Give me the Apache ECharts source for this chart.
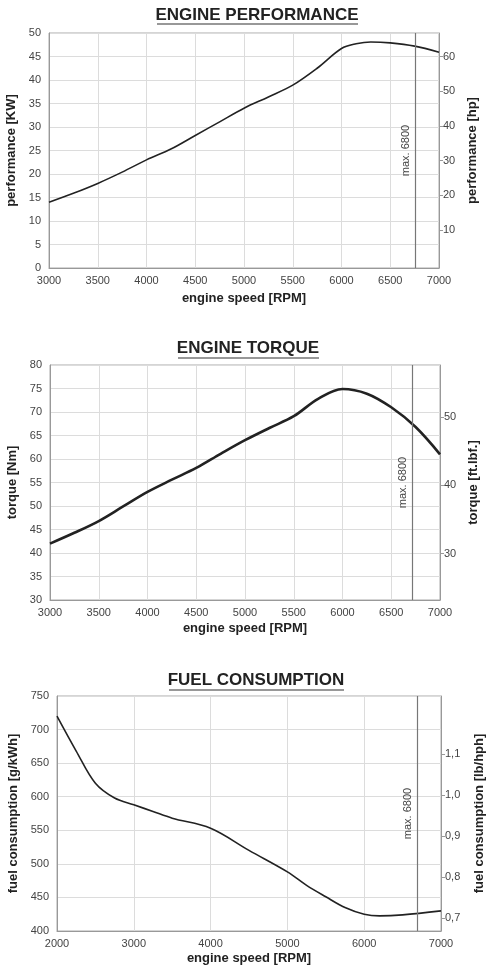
<!DOCTYPE html>
<html>
<head>
<meta charset="utf-8">
<script src="https://cdn.jsdelivr.net/npm/echarts@6/dist/echarts.min.js"></script>
<style>
  html, body { margin: 0; padding: 0; background: #fff; }
  #chart { width: 487px; height: 966px; }
</style>
</head>
<body>
<div id="chart"></div>
<script>
// engine performance
var rpmPower = [3000, 3250, 3500, 3750, 4000, 4250, 4500, 4750, 5000, 5250, 5500, 5750, 6000, 6150, 6300, 6500, 6750, 7000]
var powerKw = [14, 15.9, 18, 20.4, 23, 25.3, 28.2, 31.1, 34, 36.4, 38.9, 42.5, 46.7, 47.7, 48.1, 47.9, 47.2, 45.9]
var hpTicks = [10, 20, 30, 40, 50, 60]

// engine torque
var rpmTorque = [3000, 3250, 3500, 3750, 4000, 4250, 4500, 4750, 5000, 5250, 5500, 5750, 6000, 6250, 6500, 6750, 7000]
var torqueNm = [42, 44.3, 46.8, 49.9, 53, 55.6, 58.1, 61.1, 64, 66.6, 69.1, 72.8, 74.9, 73.9, 71, 66.8, 61]
var ftlbfTicks = [30, 40, 50]

// fuel consumption
var rpmFuel = [2000, 2250, 2500, 2750, 3000, 3250, 3500, 4000, 4500, 5000, 5250, 5500, 5750, 6000, 6200, 6500, 7000]
var fuelGkwh = [720, 668, 620, 598, 588, 578, 568, 553, 520, 488, 468, 451, 435, 425, 422.5, 424, 430]
var lbhphTicks = [0.7, 0.8, 0.9, 1.0, 1.1]

var maxLabel = 'max. 6800'
var maxRpm = [6760, 6716, 6695]

function pairs (xs, ys) {
  return xs.map(function (x, i) { return [x, ys[i]] })
}

var labelStyle = { color: '#444', fontSize: 11, fontFamily: 'Liberation Sans, Arial' }
var nameStyle = { color: '#222', fontSize: 13, fontWeight: 'bold', fontFamily: 'Liberation Sans, Arial' }
var gridLine = { show: true, lineStyle: { color: '#dcdcdc', width: 1 } }
var axisLine = { show: true, lineStyle: { color: '#999' } }

function plain (v) {
  return String(v)
}

function xAx (idx, min, max, interval, gap) {
  return {
    type: 'value', gridIndex: idx, min: min, max: max, interval: interval,
    name: 'engine speed [RPM]', nameLocation: 'middle', nameGap: gap, nameTextStyle: nameStyle,
    axisLine: axisLine, axisTick: { show: false }, splitLine: gridLine,
    axisLabel: Object.assign({ margin: 7, formatter: plain }, labelStyle)
  }
}

function leftAx (idx, name, min, max, interval, gap) {
  return {
    type: 'value', gridIndex: idx, position: 'left', min: min, max: max, interval: interval,
    name: name, nameLocation: 'middle', nameGap: gap, nameTextStyle: nameStyle,
    axisLine: axisLine, axisTick: { show: false }, splitLine: gridLine,
    axisLabel: Object.assign({ margin: 8, formatter: plain }, labelStyle)
  }
}

function rightAx (idx, name, min, max, ticks, gap, fmt) {
  return {
    type: 'value', gridIndex: idx, position: 'right', min: min, max: max,
    name: name, nameLocation: 'middle', nameGap: gap, nameTextStyle: nameStyle,
    axisLine: axisLine, splitLine: { show: false },
    axisTick: { show: true, length: 4, lineStyle: { color: '#999' }, customValues: ticks },
    axisLabel: Object.assign({ margin: 4, customValues: ticks, formatter: fmt || plain }, labelStyle)
  }
}

function curve (idx, data, width, maxX) {
  return {
    type: 'line', xAxisIndex: idx, yAxisIndex: idx * 2, data: data,
    smooth: 0.35, showSymbol: false, silent: true,
    lineStyle: { color: '#222', width: width },
    markLine: {
      silent: true, symbol: 'none',
      lineStyle: { color: '#777', width: 1.2, type: 'solid' },
      label: {
        show: true, formatter: maxLabel, position: 'insideMiddleTop', distance: 4,
        color: '#444', fontSize: 11, fontFamily: 'Liberation Sans, Arial'
      },
      data: [{ xAxis: maxX }]
    }
  }
}

function title (text, x, y) {
  return {
    text: text, left: x, top: y, textAlign: 'center', padding: 0,
    textStyle: { color: '#222', fontSize: 17, fontWeight: 'bold', fontFamily: 'Liberation Sans, Arial' }
  }
}

function underline (x1, x2, y) {
  return { type: 'line', shape: { x1: x1, y1: y, x2: x2, y2: y }, style: { stroke: '#333', lineWidth: 1.2 } }
}

var option = {
  animation: false,
  backgroundColor: '#fff',
  title: [
    title('ENGINE PERFORMANCE', 257, 7),
    title('ENGINE TORQUE', 248, 340),
    title('FUEL CONSUMPTION', 256, 672)
  ],
  graphic: [
    underline(157, 358, 24),
    underline(178, 319, 358),
    underline(169, 344, 690)
  ],
  grid: [
    { left: 49, top: 33, width: 390, height: 235, show: true, borderColor: '#aaa', outerBoundsMode: 'none', containLabel: false },
    { left: 50, top: 365, width: 390, height: 235, show: true, borderColor: '#aaa', outerBoundsMode: 'none', containLabel: false },
    { left: 57, top: 696, width: 384, height: 235, show: true, borderColor: '#aaa', outerBoundsMode: 'none', containLabel: false }
  ],
  xAxis: [
    xAx(0, 3000, 7000, 500, 24),
    xAx(1, 3000, 7000, 500, 22),
    xAx(2, 2000, 7000, 1000, 21)
  ],
  yAxis: [
    leftAx(0, 'performance [KW]', 0, 50, 5, 27),
    rightAx(0, 'performance [hp]', -1, 66.8, hpTicks, 27),
    leftAx(1, 'torque [Nm]', 30, 80, 5, 25),
    rightAx(1, 'torque [ft.lbf.]', 23.2, 57.6, ftlbfTicks, 21),
    leftAx(2, 'fuel consumption [g/kWh]', 400, 750, 50, 32),
    rightAx(2, 'fuel consumption [lb/hph]', 0.669, 1.242, lbhphTicks, 32, function (v) {
      return v.toFixed(1).replace('.', ',')
    })
  ],
  series: [
    curve(0, pairs(rpmPower, powerKw), 1.6, maxRpm[0]),
    curve(1, pairs(rpmTorque, torqueNm), 2.6, maxRpm[1]),
    curve(2, pairs(rpmFuel, fuelGkwh), 1.6, maxRpm[2])
  ]
}

var myChart = echarts.init(document.getElementById('chart'))
myChart.setOption(option)
</script>
</body>
</html>
